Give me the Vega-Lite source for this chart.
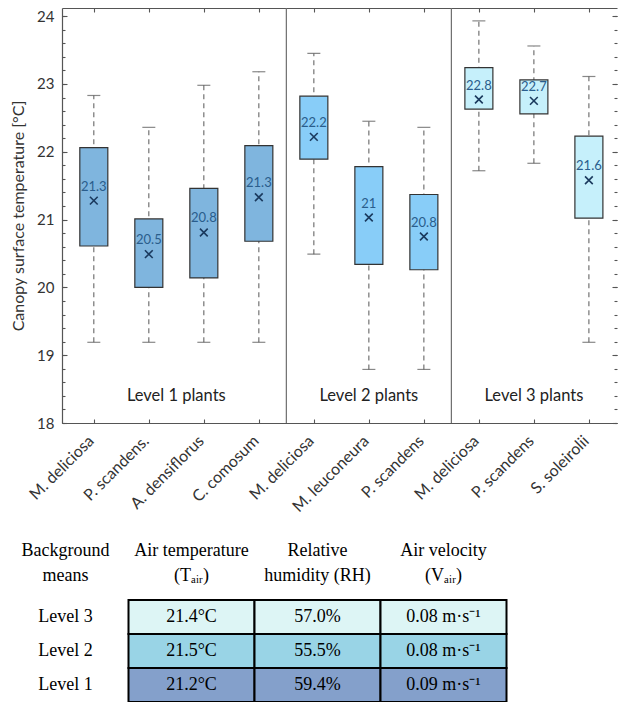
{
  "$schema": "https://vega.github.io/schema/vega-lite/v6.json",
  "padding": {"left": 10, "top": 7, "right": 0, "bottom": 0},
  "bounds": "flush",
  "spacing": 143,
  "config": {
    "view": {"stroke": null},
    "font": "Lato",
    "axis": {"grid": false, "domainColor": "#555", "tickColor": "#555", "domainWidth": 1.2, "tickWidth": 1.1}
  },
  "datasets": {
    "boxes": [
      {"i": 1, "level": "Level 1", "group": "Level 1 plants", "plant": "M. deliciosa", "lo": 19.19, "q1": 20.61, "q3": 22.06, "hi": 22.83, "mean": 21.28, "label": "21.3"},
      {"i": 2, "level": "Level 1", "group": "Level 1 plants", "plant": "P. scandens.", "lo": 19.19, "q1": 20.0, "q3": 21.01, "hi": 22.36, "mean": 20.49, "label": "20.5"},
      {"i": 3, "level": "Level 1", "group": "Level 1 plants", "plant": "A. densiflorus", "lo": 19.19, "q1": 20.14, "q3": 21.46, "hi": 22.98, "mean": 20.81, "label": "20.8"},
      {"i": 4, "level": "Level 1", "group": "Level 1 plants", "plant": "C. comosum", "lo": 19.19, "q1": 20.68, "q3": 22.09, "hi": 23.18, "mean": 21.33, "label": "21.3"},
      {"i": 5, "level": "Level 2", "group": "Level 2 plants", "plant": "M. deliciosa", "lo": 20.49, "q1": 21.89, "q3": 22.82, "hi": 23.45, "mean": 22.22, "label": "22.2"},
      {"i": 6, "level": "Level 2", "group": "Level 2 plants", "plant": "M. leuconeura", "lo": 18.79, "q1": 20.34, "q3": 21.78, "hi": 22.45, "mean": 21.03, "label": "21"},
      {"i": 7, "level": "Level 2", "group": "Level 2 plants", "plant": "P. scandens", "lo": 18.79, "q1": 20.26, "q3": 21.37, "hi": 22.36, "mean": 20.75, "label": "20.8"},
      {"i": 8, "level": "Level 3", "group": "Level 3 plants", "plant": "M. deliciosa", "lo": 21.72, "q1": 22.63, "q3": 23.24, "hi": 23.93, "mean": 22.77, "label": "22.8"},
      {"i": 9, "level": "Level 3", "group": "Level 3 plants", "plant": "P. scandens", "lo": 21.83, "q1": 22.56, "q3": 23.06, "hi": 23.56, "mean": 22.75, "label": "22.7"},
      {"i": 10, "level": "Level 3", "group": "Level 3 plants", "plant": "S. soleirolii", "lo": 19.19, "q1": 21.02, "q3": 22.23, "hi": 23.11, "mean": 21.58, "label": "21.6"}
    ],
    "seps": [{"x": 4.5}, {"x": 7.5}],
    "cells": [
      {"level": "Level 3", "col": "Tair", "text": "21.4°C"},
      {"level": "Level 3", "col": "RH", "text": "57.0%"},
      {"level": "Level 3", "col": "Vair", "text": "0.08 m·s⁻¹"},
      {"level": "Level 2", "col": "Tair", "text": "21.5°C"},
      {"level": "Level 2", "col": "RH", "text": "55.5%"},
      {"level": "Level 2", "col": "Vair", "text": "0.08 m·s⁻¹"},
      {"level": "Level 1", "col": "Tair", "text": "21.2°C"},
      {"level": "Level 1", "col": "RH", "text": "59.4%"},
      {"level": "Level 1", "col": "Vair", "text": "0.09 m·s⁻¹"}
    ],
    "heads": [
      {"col": "means", "text": "Background\nmeans"},
      {"col": "Tair", "text": "Air temperature\n(Tₐᵢᵣ)"},
      {"col": "RH", "text": "Relative\nhumidity (RH)"},
      {"col": "Vair", "text": "Air velocity\n(Vₐᵢᵣ)"}
    ]
  },
  "resolve": {"scale": {"color": "independent", "x": "independent", "y": "independent"}},
  "vconcat": [
    {
      "width": 555,
      "height": 415,
      "resolve": {"axis": {"x": "independent", "y": "independent"}},
      "layer": [
        {
          "data": {"name": "seps"},
          "mark": {"type": "rule", "color": "#6e6e6e", "strokeWidth": 1.2},
          "encoding": {
            "x": {"field": "x", "type": "quantitative", "scale": {"domain": [0.5125, 10.42], "nice": false, "zero": false}, "axis": null}
          }
        },
        {
          "data": {"name": "boxes"},
          "mark": {"type": "rule", "color": "#666", "strokeWidth": 1.1, "strokeDash": [5, 4]},
          "encoding": {
            "x": {"field": "i", "type": "quantitative", "scale": {"domain": [0.5125, 10.42], "nice": false, "zero": false},
              "axis": {"orient": "bottom", "values": [1, 2, 3, 4, 5, 6, 7, 8, 9, 10], "labelExpr": "['M. deliciosa','P. scandens.','A. densiflorus','C. comosum','M. deliciosa','M. leuconeura','P. scandens','M. deliciosa','P. scandens','S. soleirolii'][datum.value - 1]", "labelOverlap": false, "labelAngle": -45, "labelAlign": "right", "labelBaseline": "middle", "tickSize": -4, "labelPadding": 19, "labelOffset": -3, "title": null, "labelFont": "Lato", "labelFontSize": 16, "labelColor": "#333"}},
            "y": {"field": "lo", "type": "quantitative", "scale": {"domain": [18, 24.12], "nice": false, "zero": false},
              "axis": {"orient": "left", "values": [18, 19, 20, 21, 22, 23, 24], "tickSize": -5, "labelPadding": 13, "labelFont": "Lato", "labelFontSize": 15, "labelColor": "#333", "title": "Canopy surface temperature [°C]", "titleFont": "Lato", "titleFontSize": 16, "titleFontWeight": "normal", "titleColor": "#333", "titlePadding": 10}},
            "y2": {"field": "hi"}
          }
        },
        {
          "data": {"name": "boxes"},
          "mark": {"type": "tick", "orient": "horizontal", "size": 13, "thickness": 1.2, "color": "#555"},
          "encoding": {
            "x": {"field": "i", "type": "quantitative", "scale": {"domain": [0.5125, 10.42], "nice": false, "zero": false},
              "axis": {"orient": "top", "values": [1, 2, 3, 4, 5, 6, 7, 8, 9, 10], "tickSize": -4, "labels": false, "title": null}},
            "y": {"field": "hi", "type": "quantitative", "scale": {"domain": [18, 24.12], "nice": false, "zero": false},
              "axis": {"orient": "left", "values": [18, 18.2, 18.4, 18.6, 18.8, 19, 19.2, 19.4, 19.6, 19.8, 20, 20.2, 20.4, 20.6, 20.8, 21, 21.2, 21.4, 21.6, 21.8, 22, 22.2, 22.4, 22.6, 22.8, 23, 23.2, 23.4, 23.6, 23.8, 24], "tickSize": -3, "labels": false, "domain": false, "title": null}}
          }
        },
        {
          "data": {"name": "boxes"},
          "mark": {"type": "tick", "orient": "horizontal", "size": 13, "thickness": 1.2, "color": "#555"},
          "encoding": {
            "x": {"field": "i", "type": "quantitative", "scale": {"domain": [0.5125, 10.42], "nice": false, "zero": false}, "axis": null},
            "y": {"field": "lo", "type": "quantitative", "scale": {"domain": [18, 24.12], "nice": false, "zero": false},
              "axis": {"orient": "right", "values": [18, 19, 20, 21, 22, 23, 24], "tickSize": -5, "labels": false, "domain": false, "title": null}}
          }
        },
        {
          "data": {"name": "boxes"},
          "mark": {"type": "bar", "size": 28, "stroke": "#333", "strokeWidth": 1.2},
          "encoding": {
            "x": {"field": "i", "type": "quantitative", "scale": {"domain": [0.5125, 10.42], "nice": false, "zero": false}, "axis": null},
            "y": {"field": "q1", "type": "quantitative", "scale": {"domain": [18, 24.12], "nice": false, "zero": false},
              "axis": {"orient": "right", "values": [18, 18.2, 18.4, 18.6, 18.8, 19, 19.2, 19.4, 19.6, 19.8, 20, 20.2, 20.4, 20.6, 20.8, 21, 21.2, 21.4, 21.6, 21.8, 22, 22.2, 22.4, 22.6, 22.8, 23, 23.2, 23.4, 23.6, 23.8, 24], "tickSize": -3, "labels": false, "domain": false, "title": null}},
            "y2": {"field": "q3"},
            "color": {"field": "level", "type": "nominal", "scale": {"domain": ["Level 1", "Level 2", "Level 3"], "range": ["#7fb5de", "#88cdf8", "#c6f0fb"]}, "legend": null}
          }
        },
        {
          "data": {"name": "boxes"},
          "mark": {"type": "point", "shape": "M-1,-1L1,1M1,-1L-1,1", "size": 60, "filled": false, "stroke": "#1b3a5e", "strokeWidth": 1.6, "opacity": 1},
          "encoding": {
            "x": {"field": "i", "type": "quantitative", "scale": {"domain": [0.5125, 10.42], "nice": false, "zero": false}, "axis": null},
            "y": {"field": "mean", "type": "quantitative", "scale": {"domain": [18, 24.12], "nice": false, "zero": false}, "axis": null}
          }
        },
        {
          "data": {"name": "boxes"},
          "mark": {"type": "text", "dy": -14, "fontSize": 13, "color": "#2a5d8c", "baseline": "middle"},
          "encoding": {
            "x": {"field": "i", "type": "quantitative", "scale": {"domain": [0.5125, 10.42], "nice": false, "zero": false}, "axis": null},
            "y": {"field": "mean", "type": "quantitative", "scale": {"domain": [18, 24.12], "nice": false, "zero": false}, "axis": null},
            "text": {"field": "label"}
          }
        },
        {
          "data": {"name": "boxes"},
          "mark": {"type": "text", "fontSize": 16.5, "color": "#222", "baseline": "middle"},
          "encoding": {
            "x": {"aggregate": "mean", "field": "i", "type": "quantitative", "scale": {"domain": [0.5125, 10.42], "nice": false, "zero": false}, "axis": null},
            "y": {"datum": 18.4, "type": "quantitative", "scale": {"domain": [18, 24.12], "nice": false, "zero": false}, "axis": null},
            "text": {"field": "group", "type": "nominal"}
          }
        }
      ]
    },
    {
      "width": 555,
      "height": 136,
      "layer": [
        {
          "data": {"name": "cells"},
          "mark": {"type": "rect", "stroke": "#000", "strokeWidth": 2},
          "encoding": {
            "x": {"field": "col", "type": "nominal", "scale": {"type": "band", "domain": ["means", "Tair", "RH", "Vair"], "range": [-59.5, 444.5], "paddingInner": 0, "paddingOuter": 0}, "axis": null},
            "y": {"field": "level", "type": "nominal", "scale": {"type": "band", "domain": ["head", "Level 3", "Level 2", "Level 1"], "paddingInner": 0, "paddingOuter": 0}, "axis": null},
            "color": {"field": "level", "type": "nominal", "scale": {"domain": ["Level 3", "Level 2", "Level 1"], "range": ["#ddf5f5", "#99d4e6", "#84a0cb"]}, "legend": null}
          }
        },
        {
          "data": {"name": "cells"},
          "mark": {"type": "text", "font": "Liberation Serif", "fontSize": 18, "color": "#000", "baseline": "middle"},
          "encoding": {
            "x": {"field": "col", "type": "nominal", "scale": {"type": "band", "domain": ["means", "Tair", "RH", "Vair"], "range": [-59.5, 444.5], "paddingInner": 0, "paddingOuter": 0}, "axis": null},
            "y": {"field": "level", "type": "nominal", "scale": {"type": "band", "domain": ["head", "Level 3", "Level 2", "Level 1"], "paddingInner": 0, "paddingOuter": 0}, "axis": null},
            "text": {"field": "text"}
          }
        },
        {
          "data": {"name": "cells"},
          "transform": [{"filter": {"field": "col", "equal": "Tair"}}],
          "mark": {"type": "text", "font": "Liberation Serif", "fontSize": 18, "color": "#000", "baseline": "middle"},
          "encoding": {
            "x": {"datum": "means", "type": "nominal", "scale": {"type": "band", "domain": ["means", "Tair", "RH", "Vair"], "range": [-59.5, 444.5], "paddingInner": 0, "paddingOuter": 0}, "axis": null},
            "y": {"field": "level", "type": "nominal", "scale": {"type": "band", "domain": ["head", "Level 3", "Level 2", "Level 1"], "paddingInner": 0, "paddingOuter": 0}, "axis": null},
            "text": {"field": "level"}
          }
        },
        {
          "data": {"name": "heads"},
          "mark": {"type": "text", "font": "Liberation Serif", "fontSize": 18, "color": "#000", "baseline": "middle", "lineBreak": "\n", "lineHeight": 25, "dy": -32},
          "encoding": {
            "x": {"field": "col", "type": "nominal", "scale": {"type": "band", "domain": ["means", "Tair", "RH", "Vair"], "range": [-59.5, 444.5], "paddingInner": 0, "paddingOuter": 0}, "axis": null},
            "y": {"datum": "head", "type": "nominal", "scale": {"type": "band", "domain": ["head", "Level 3", "Level 2", "Level 1"], "paddingInner": 0, "paddingOuter": 0}, "axis": null},
            "text": {"field": "text"}
          }
        }
      ]
    }
  ]
}
